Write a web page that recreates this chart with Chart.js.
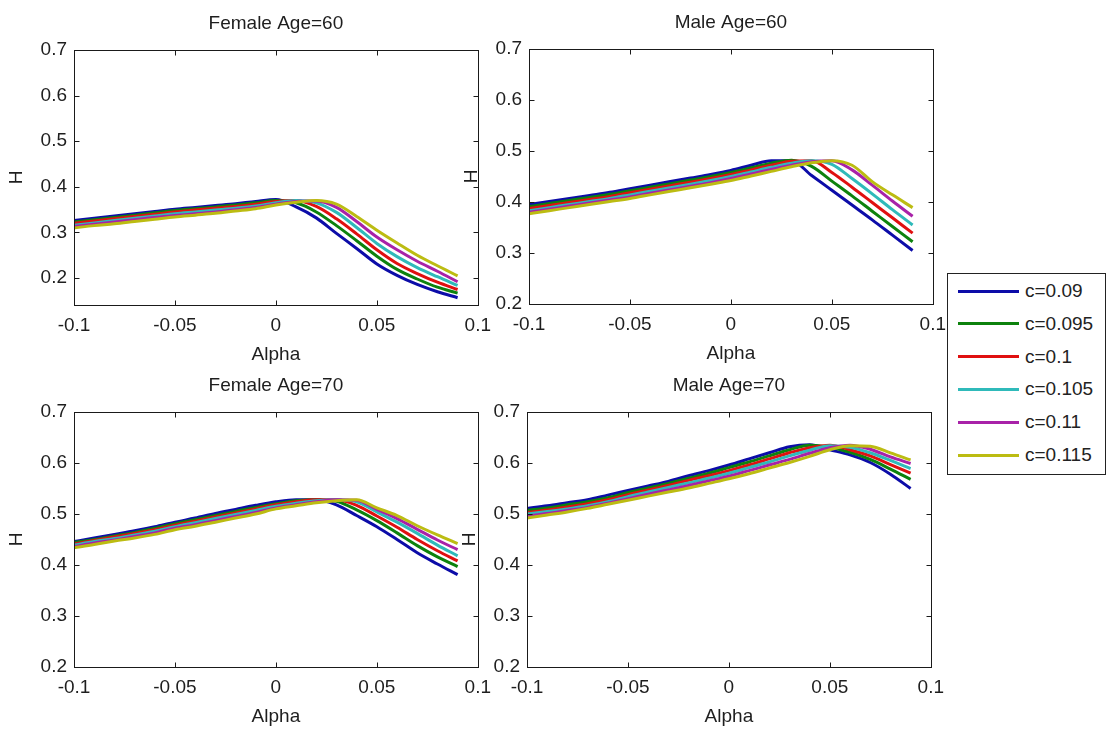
<!DOCTYPE html>
<html>
<head>
<meta charset="utf-8">
<script src="https://cdn.jsdelivr.net/npm/chart.js@4/dist/chart.umd.min.js"></script>
<style>
html,body{margin:0;padding:0;background:#fff;width:1114px;height:731px;overflow:hidden;position:relative;font-family:"Liberation Sans",Arial,sans-serif;}
canvas{position:absolute;}
#legend{position:absolute;left:947px;top:273px;width:159px;height:202px;box-sizing:border-box;border:1px solid #222;background:#fff;}
.item{position:absolute;left:0;width:100%;height:0;}
.item .ln{position:absolute;left:10px;width:61px;height:3px;top:-1.5px;}
.item .tx{position:absolute;left:77px;top:-11px;font-size:19px;line-height:22px;color:#222;white-space:nowrap;}
</style>
</head>
<body>
<canvas id="p1"></canvas>
<canvas id="p2"></canvas>
<canvas id="p3"></canvas>
<canvas id="p4"></canvas>
<div id="legend"></div>
<script>
// ---------- data ----------
const alpha = [-0.1,-0.09,-0.08,-0.07,-0.06,-0.05,-0.04,-0.03,-0.02,-0.01,0,0.01,0.02,0.03,0.04,0.05,0.06,0.07,0.08,0.09];
const cLabels = ['c=0.09','c=0.095','c=0.1','c=0.105','c=0.11','c=0.115'];
const panelTitles = ['Female Age=60','Male Age=60','Female Age=70','Male Age=70'];
const xTicks = [-0.1,-0.05,0,0.05,0.1];
const xTickLabels = ['-0.1','-0.05','0','0.05','0.1'];
const yTicks = [0.2,0.3,0.4,0.5,0.6,0.7];
const yTickLabels = ['0.2','0.3','0.4','0.5','0.6','0.7'];
const yMins = [0.141,0.2,0.2,0.2];
const yMax = 0.7;

// Female Age=60
const f60_c090 = [.326,.331,.336,.341,.346,.351,.355,.359,.363,.368,.372,.356,.332,.298,.265,.231,.206,.186,.170,.157];
const f60_c095 = [.323,.328,.333,.338,.343,.348,.352,.356,.360,.365,.370,.365,.345,.315,.282,.248,.219,.198,.180,.167];
const f60_c100 = [.320,.325,.330,.335,.340,.345,.349,.353,.357,.362,.368,.370,.357,.330,.297,.262,.232,.210,.191,.175];
const f60_c105 = [.316,.321,.326,.331,.336,.341,.345,.349,.353,.358,.365,.370,.365,.344,.311,.276,.247,.223,.203,.184];
const f60_c110 = [.313,.318,.323,.328,.333,.337,.341,.345,.350,.355,.362,.368,.369,.355,.324,.290,.262,.237,.215,.192];
const f60_c115 = [.310,.315,.319,.324,.329,.334,.338,.342,.347,.352,.360,.366,.370,.362,.335,.305,.277,.250,.227,.205];

// Male Age=60
const m60_c090 = [.395,.401,.407,.413,.419,.426,.433,.440,.447,.454,.462,.472,.481,.481,.452,.423,.394,.365,.335,.305];
const m60_c095 = [.391,.397,.403,.409,.415,.422,.429,.436,.443,.450,.458,.467,.476,.482,.470,.441,.412,.382,.352,.322];
const m60_c100 = [.387,.393,.399,.405,.411,.418,.425,.432,.439,.446,.454,.463,.472,.480,.481,.458,.429,.399,.369,.339];
const m60_c105 = [.383,.389,.395,.401,.407,.414,.421,.428,.435,.442,.450,.459,.468,.476,.481,.474,.446,.416,.385,.355];
const m60_c110 = [.380,.386,.392,.398,.404,.410,.417,.424,.431,.438,.446,.455,.464,.472,.479,.481,.463,.433,.402,.372];
const m60_c115 = [.377,.383,.389,.395,.401,.407,.414,.421,.428,.435,.442,.451,.460,.469,.477,.481,.472,.440,.414,.389];

// Female Age=70
const f70_c090 = [.446,.453,.460,.467,.475,.484,.492,.501,.509,.517,.524,.528,.528,.518,.497,.475,.450,.424,.402,.381];
const f70_c095 = [.444,.450,.457,.464,.472,.481,.489,.497,.505,.513,.520,.526,.528,.525,.508,.487,.463,.438,.416,.397];
const f70_c100 = [.441,.448,.455,.462,.469,.478,.486,.494,.502,.510,.518,.524,.528,.528,.517,.496,.474,.450,.428,.408];
const f70_c105 = [.439,.446,.452,.459,.466,.475,.483,.491,.499,.507,.515,.521,.526,.528,.524,.504,.484,.462,.439,.418];
const f70_c110 = [.436,.443,.449,.456,.463,.472,.479,.487,.495,.503,.512,.518,.524,.528,.527,.509,.491,.470,.449,.430];
const f70_c115 = [.434,.440,.447,.453,.460,.469,.476,.484,.492,.500,.510,.516,.522,.526,.528,.512,.497,.477,.459,.442];

// Male Age=70
const m70_c090 = [.511,.516,.522,.528,.537,.546,.555,.564,.575,.585,.596,.608,.620,.632,.636,.626,.616,.601,.578,.550];
const m70_c095 = [.507,.512,.518,.524,.532,.542,.551,.560,.570,.580,.591,.602,.614,.626,.635,.631,.621,.607,.588,.568];
const m70_c100 = [.503,.508,.514,.520,.528,.538,.547,.556,.566,.575,.585,.596,.608,.620,.630,.635,.626,.614,.597,.580];
const m70_c105 = [.500,.505,.510,.516,.524,.534,.543,.552,.561,.570,.580,.591,.602,.614,.625,.634,.631,.620,.605,.589];
const m70_c110 = [.496,.501,.507,.513,.521,.530,.539,.547,.556,.565,.574,.585,.596,.607,.619,.630,.635,.627,.612,.599];
const m70_c115 = [.492,.498,.504,.511,.519,.527,.535,.543,.551,.560,.569,.579,.590,.601,.613,.626,.634,.633,.620,.606];

const female60 = [f60_c090,f60_c095,f60_c100,f60_c105,f60_c110,f60_c115];
const male60   = [m60_c090,m60_c095,m60_c100,m60_c105,m60_c110,m60_c115];
const female70 = [f70_c090,f70_c095,f70_c100,f70_c105,f70_c110,f70_c115];
const male70   = [m70_c090,m70_c095,m70_c100,m70_c105,m70_c110,m70_c115];

// ---------- style ----------
const seriesColors = ['#0c0ca8','#0d820d','#e01010','#2fbaba','#a822a8','#bcbc12'];
const TXT = '#1e1e1e';
const FONT = '"Liberation Sans", Arial, sans-serif';
const CW = 500, CH = 370, PL = 74, PT = 50, PW = 404, PH = 255;

const boxPlugin = {
  id: 'matlabBox',
  afterDraw(chart) {
    const {ctx, chartArea: a, scales} = chart;
    ctx.save();
    ctx.strokeStyle = '#1a1a1a';
    ctx.lineWidth = 1;
    const L = Math.round(a.left) + 0.5, T = Math.round(a.top) + 0.5;
    const R = Math.round(a.right) + 0.5, B = Math.round(a.bottom) + 0.5;
    ctx.strokeRect(L, T, R - L, B - T);
    const tl = 5;
    ctx.beginPath();
    scales.x.ticks.forEach(t => {
      const px = Math.round(scales.x.getPixelForValue(t.value)) + 0.5;
      ctx.moveTo(px, B); ctx.lineTo(px, B - tl);
      ctx.moveTo(px, T); ctx.lineTo(px, T + tl);
    });
    scales.y.ticks.forEach(t => {
      const py = Math.round(scales.y.getPixelForValue(t.value)) + 0.5;
      ctx.moveTo(L, py); ctx.lineTo(L + tl, py);
      ctx.moveTo(R, py); ctx.lineTo(R - tl, py);
    });
    ctx.stroke();
    ctx.restore();
  }
};

function makePanel(id, idx, series, left, top) {
  const canvas = document.getElementById(id);
  canvas.width = CW; canvas.height = CH;
  canvas.style.left = (left - PL) + 'px';
  canvas.style.top = (top - PT) + 'px';
  const yMin = yMins[idx];
  const shownY = yTicks.filter(v => v >= yMin - 1e-9);
  new Chart(canvas, {
    type: 'line',
    data: {
      datasets: series.map((s, i) => ({
        label: cLabels[i],
        data: alpha.map((a, j) => ({x: a, y: s[j]})),
        borderColor: seriesColors[i],
        backgroundColor: seriesColors[i],
        borderWidth: 3,
        pointRadius: 0,
        fill: false,
        order: 5 - i,
        cubicInterpolationMode: 'monotone'
      }))
    },
    options: {
      responsive: false,
      animation: false,
      devicePixelRatio: 1,
      layout: {padding: {left: 0, top: 0, right: CW - PL - PW, bottom: 0}},
      plugins: {
        legend: {display: false},
        tooltip: {enabled: false},
        title: {
          display: true, text: panelTitles[idx], fullSize: false, color: TXT,
          font: {family: FONT, size: 19, weight: 'normal', lineHeight: 1.2},
          padding: {top: 12, bottom: PT - 12 - 22.8}
        }
      },
      scales: {
        x: {
          type: 'linear', min: -0.1, max: 0.1,
          afterBuildTicks: s => { s.ticks = xTicks.map(v => ({value: v})); },
          afterFit: s => { s.height = CH - PT - PH; },
          ticks: {callback: (v, i) => xTickLabels[i], color: TXT, font: {family: FONT, size: 19}, padding: 9, maxRotation: 0, autoSkip: false},
          grid: {display: false, drawTicks: false},
          border: {display: false},
          title: {display: true, text: 'Alpha', color: TXT, font: {family: FONT, size: 19, lineHeight: 1.2}, padding: {top: 0, bottom: 3.6}}
        },
        y: {
          type: 'linear', min: yMin, max: yMax,
          afterBuildTicks: s => { s.ticks = shownY.map(v => ({value: v})); },
          afterFit: s => { s.width = PL; },
          ticks: {callback: (v, i) => yTickLabels[yTicks.indexOf(shownY[i])], color: TXT, font: {family: FONT, size: 19}, padding: 7, autoSkip: false},
          grid: {display: false, drawTicks: false},
          border: {display: false},
          title: {display: true, text: 'H', color: TXT, font: {family: FONT, size: 19, lineHeight: 1.2}, padding: {top: 5.6, bottom: 0}}
        }
      }
    },
    plugins: [boxPlugin]
  });
}

makePanel('p1', 0, female60, 74, 50);
makePanel('p2', 1, male60, 529, 49);
makePanel('p3', 2, female70, 74, 412);
makePanel('p4', 3, male70, 527, 412);

// legend
const leg = document.getElementById('legend');
cLabels.forEach((lab, i) => {
  const it = document.createElement('div');
  it.className = 'item';
  it.style.top = (17 + i * 32.8) + 'px';
  const ln = document.createElement('div');
  ln.className = 'ln';
  ln.style.background = seriesColors[i];
  const tx = document.createElement('div');
  tx.className = 'tx';
  tx.textContent = lab;
  it.appendChild(ln); it.appendChild(tx);
  leg.appendChild(it);
});
</script>
</body>
</html>
